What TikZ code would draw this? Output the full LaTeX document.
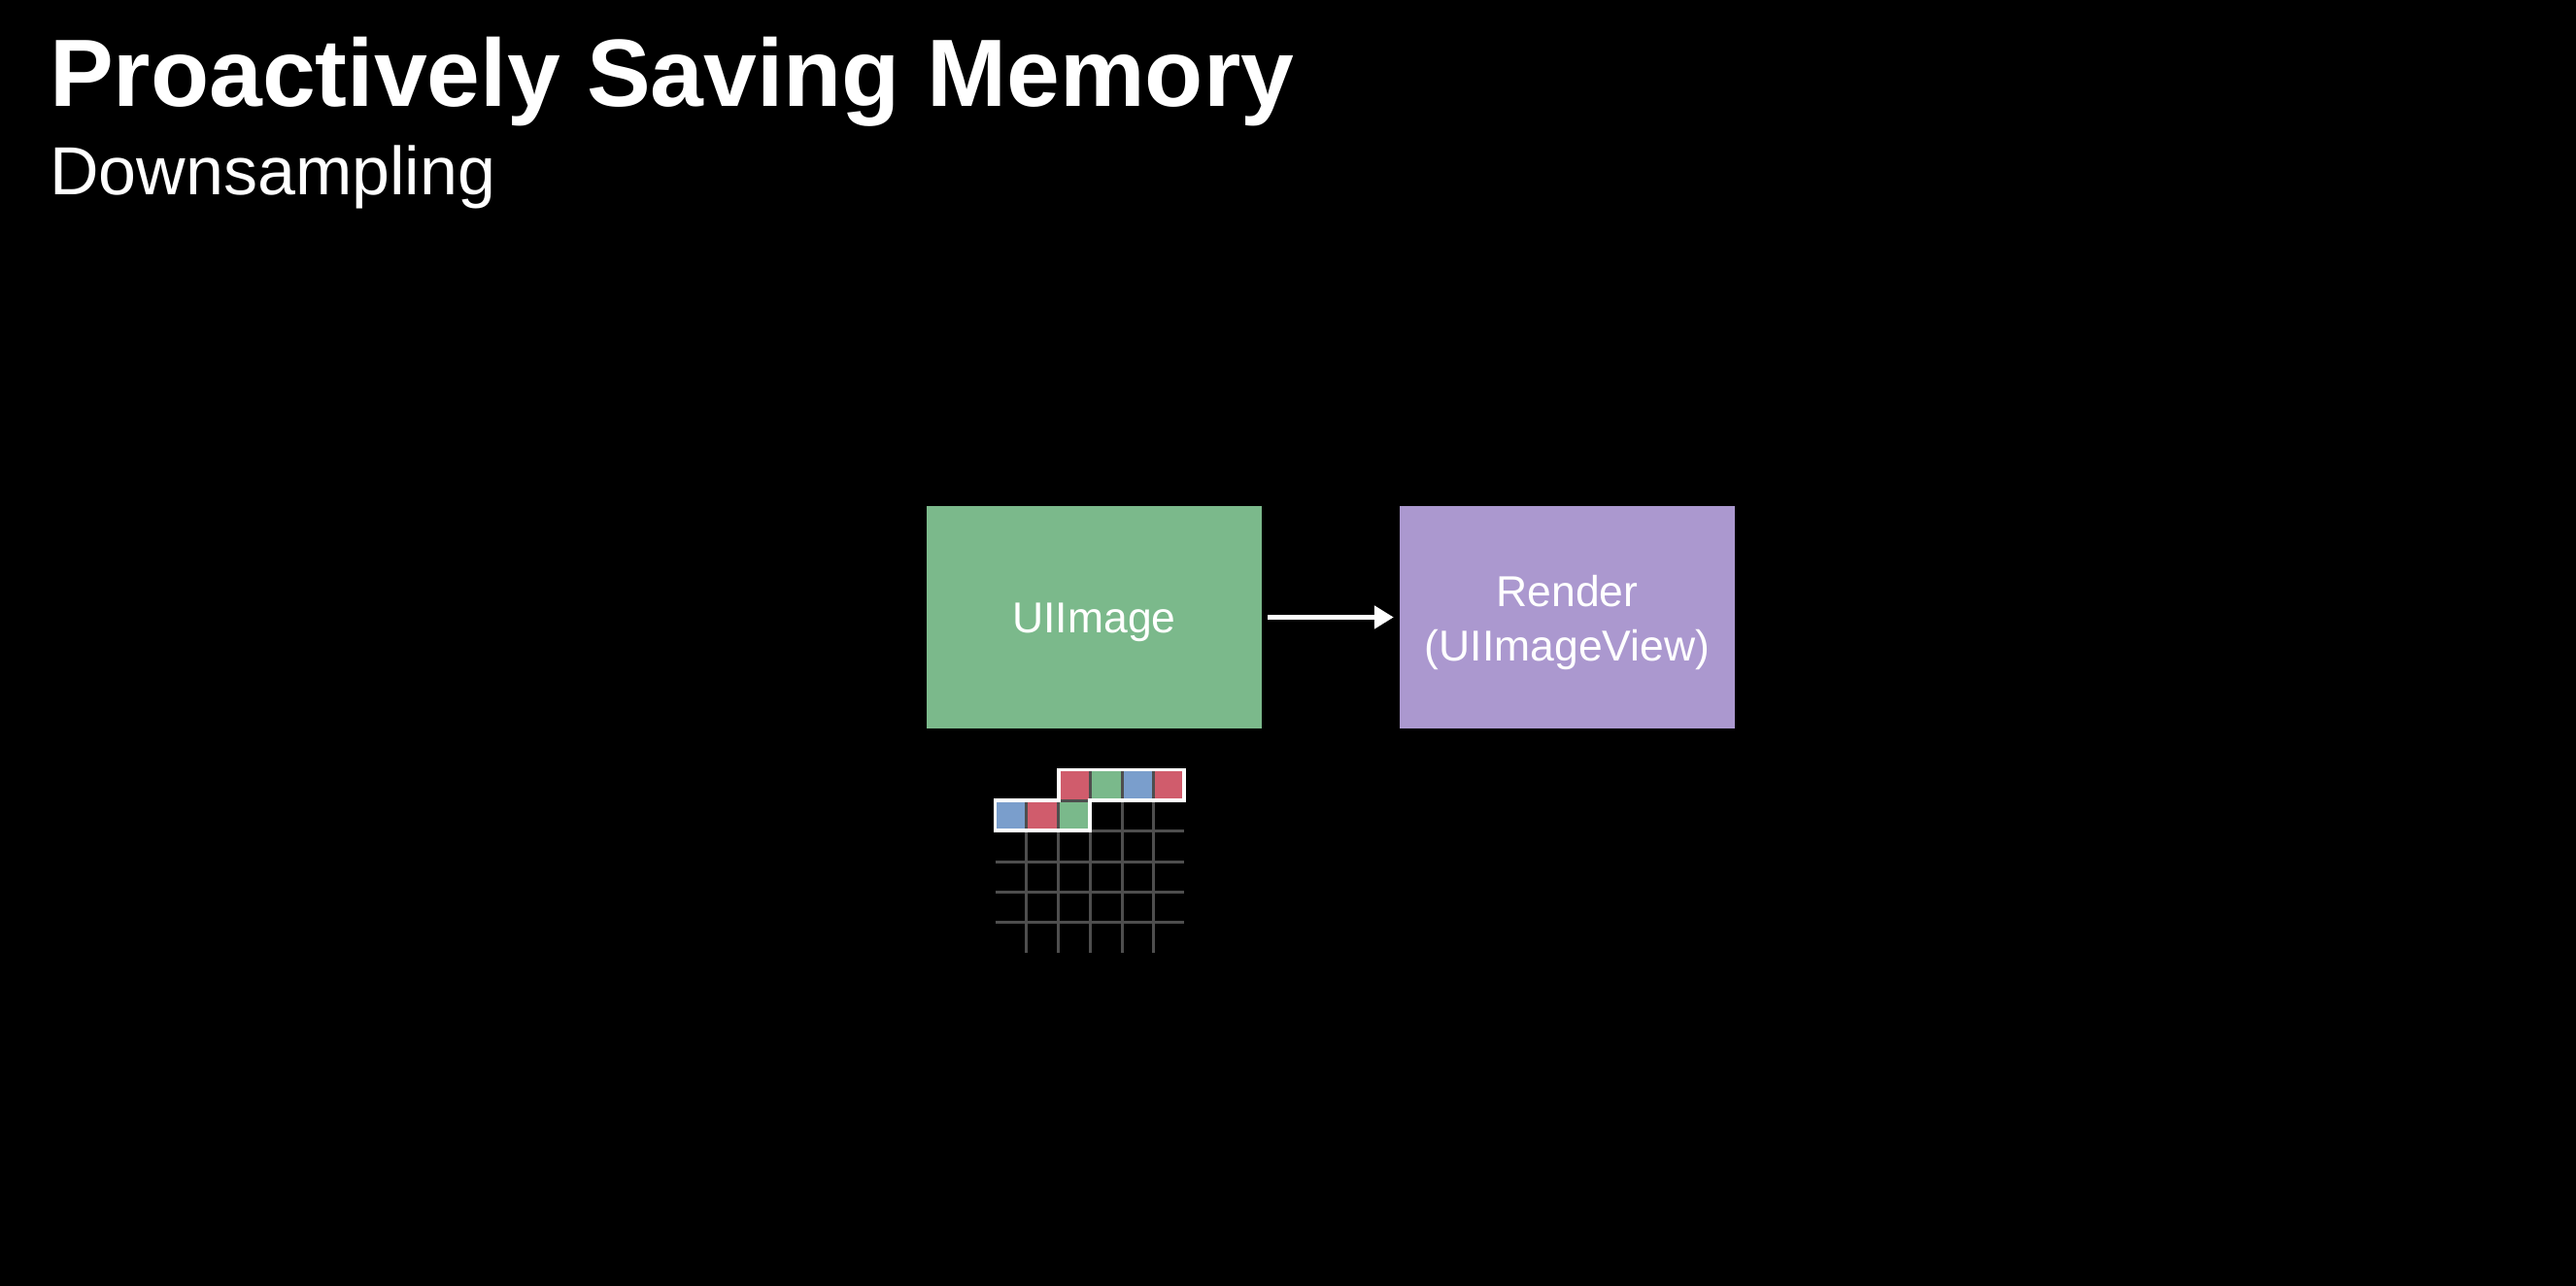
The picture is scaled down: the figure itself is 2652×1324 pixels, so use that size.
\documentclass[tikz,border=0pt]{standalone}
\usepackage{fontspec}
\setmainfont{Liberation Sans}
\usetikzlibrary{arrows.meta}
\definecolor{boxgreen}{RGB}{123,185,139}
\definecolor{boxpurple}{RGB}{171,152,207}
\definecolor{cellred}{RGB}{208,92,108}
\definecolor{cellgreen}{RGB}{122,185,139}
\definecolor{cellblue}{RGB}{122,158,204}
\definecolor{gridgray}{RGB}{78,78,78}
\tikzset{
  slidebox/.style={minimum width=345pt, minimum height=229pt, inner sep=0pt},
  boxtext/.style={align=center, text=white, inner sep=0pt, font=\fontsize{44.5}{56}\selectfont, yshift=-5pt},
  flowarrow/.style={white, line width=5.5pt, -{Triangle[length=20pt,width=23pt]}, shorten <=6pt, shorten >=6pt},
  gridline/.style={gridgray, line width=3pt},
  outline/.style={white, line width=3.5pt, line join=miter},
}
\begin{document}
\begin{tikzpicture}[x=1pt,y=-1pt]
\fill[black] (0,0) rectangle (2652,1324);
\useasboundingbox (0,0) rectangle (2652,1324);
% titles
\node[anchor=base west, inner sep=0pt, text=white, font=\fontsize{98.5}{110}\selectfont\bfseries] (title) at (51,110) {Proactively Saving Memory};
\node[anchor=base west, inner sep=0pt, text=white, font=\fontsize{70}{80}\selectfont] (subtitle) at (51,201) {Downsampling};
% boxes
\node[slidebox, fill=boxgreen, label={[boxtext]center:UIImage}] (uiimage) at (1126.5,635.5) {};
\node[slidebox, fill=boxpurple, label={[boxtext]center:Render\\(UIImageView)}] (render) at (1613.5,635.5) {};
\draw[flowarrow] (uiimage.east) -- (render.west);
% pixel grid
\foreach \x in {1056,1089,1122,1155,1187} \draw[gridline] (\x,824) -- (\x,981);
\foreach \x in {1122,1155,1187} \draw[gridline] (\x,792.5) -- (\x,824);
\foreach \y in {855,887,918,949} \draw[gridline] (1024.5,\y) -- (1219,\y);
\draw[gridline] (1089,824) -- (1122,824);
% cells bottom row
\fill[cellblue]  (1026,825.5) rectangle (1054.5,853.5);
\fill[cellred]   (1057.5,825.5) rectangle (1087.5,853.5);
\fill[cellgreen] (1090.5,825.5) rectangle (1120.5,853.5);
% cells top row
\fill[cellred]   (1090.5,794) rectangle (1120.5,822.5);
\fill[cellgreen] (1123.5,794) rectangle (1153.5,822.5);
\fill[cellblue]  (1156.5,794) rectangle (1185.5,822.5);
\fill[cellred]   (1188.5,794) rectangle (1217.5,822.5);
% outline
\draw[outline] (1024.5,824) -- (1090,824) -- (1090,792.5) -- (1219,792.5) -- (1219,824) -- (1122,824) -- (1122,855) -- (1024.5,855) -- cycle;
\end{tikzpicture}
\end{document}
